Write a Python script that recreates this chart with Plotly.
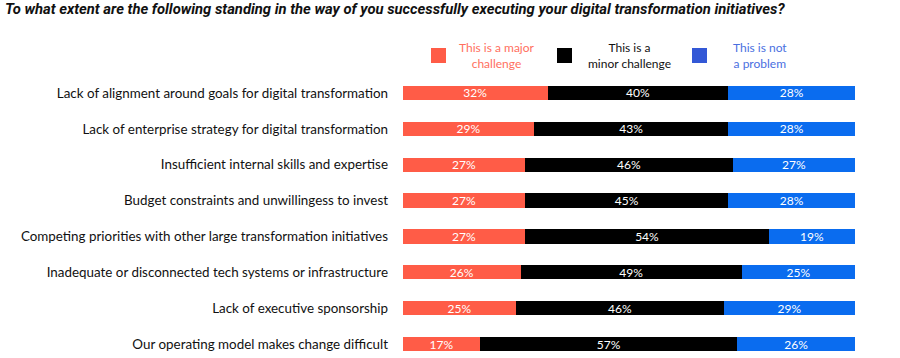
import plotly.graph_objects as go

categories = [
    "Lack of alignment around goals for digital transformation",
    "Lack of enterprise strategy for digital transformation",
    "Insufficient internal skills and expertise",
    "Budget constraints and unwillingess to invest",
    "Competing priorities with other large transformation initiatives",
    "Inadequate or disconnected tech systems or infrastructure",
    "Lack of executive sponsorship",
    "Our operating model makes change difficult",
]
major = [32, 29, 27, 27, 27, 26, 25, 17]
minor = [40, 43, 46, 45, 54, 49, 46, 57]
notprob = [28, 28, 27, 28, 19, 25, 29, 26]

series_names = ["This is a major<br>challenge", "This is a<br>minor challenge", "This is not<br>a problem"]
bar_colors = ["#FF5C47", "#000000", "#0A6CEF"]
legend_sq_colors = ["#FF5C47", "#000000", "#3358D6"]
legend_txt_colors = ["#FF6F5E", "#111111", "#4A6FDF"]

fig = go.Figure()
for vals, name, col in zip([major, minor, notprob], series_names, bar_colors):
    fig.add_trace(go.Bar(
        y=categories, x=vals, orientation="h", name=name,
        marker=dict(color=col, line=dict(width=0)),
        text=[f"{v}%" for v in vals], textposition="inside",
        insidetextanchor="middle",
        textfont=dict(color="white", size=12, family="Lato"),
        width=0.4, showlegend=False,
    ))

W, H = 900, 358
L, R, T, B = 403, 45, 75, 0
pw, ph = W - L - R, H - T - B

def px_x(x):
    return (x - L) / pw

def px_y(y):
    return (H - B - y) / ph

sq_x = [431, 557, 692]
txt_x = [497, 629, 760]
shapes = []
annotations = []
for sx, tx, sc, tc, nm in zip(sq_x, txt_x, legend_sq_colors, legend_txt_colors, series_names):
    shapes.append(dict(type="rect", xref="paper", yref="paper",
                       x0=px_x(sx), x1=px_x(sx + 15), y0=px_y(63), y1=px_y(48),
                       fillcolor=sc, line=dict(width=0)))
    annotations.append(dict(xref="paper", yref="paper", x=px_x(tx), y=px_y(55.5),
                            text=nm, showarrow=False, xanchor="center", yanchor="middle",
                            align="center", font=dict(size=12, color=tc, family="Lato")))

annotations.append(dict(xref="paper", yref="paper", x=px_x(3), y=px_y(9),
                        text="<b><i>To what extent are the following standing in the way of you successfully executing your digital transformation initiatives?</i></b>",
                        showarrow=False, xanchor="left", yanchor="middle",
                        font=dict(size=14.8, color="#111111", family="Roboto")))

fig.update_layout(
    barmode="stack", bargap=0.6,
    width=W, height=H,
    margin=dict(l=L, r=R, t=T, b=B, pad=14),
    paper_bgcolor="white", plot_bgcolor="white",
    xaxis=dict(range=[0, 100], visible=False, fixedrange=True),
    yaxis=dict(categoryorder="array", categoryarray=categories,
               range=[7.39, -0.5], showgrid=False, zeroline=False, showline=False,
               ticks="", tickfont=dict(size=13.4, color="#111111", family="Lato"),
               automargin=False, fixedrange=True),
    uniformtext=dict(minsize=8, mode="show"),
    shapes=shapes, annotations=annotations,
)
fig.write_html("out.html", config={"displayModeBar": False},
               post_script="document.body.style.margin='0';")
